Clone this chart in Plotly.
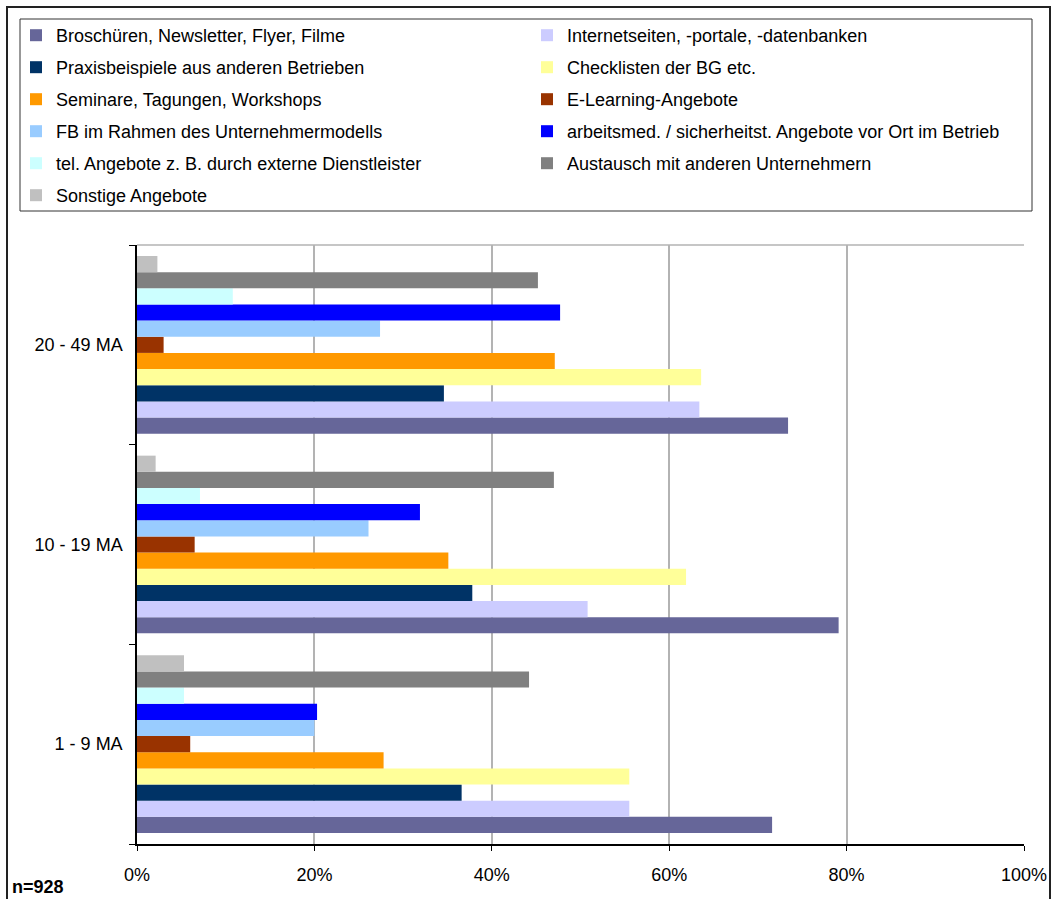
import plotly.graph_objects as go

categories = ["1 - 9 MA", "10 - 19 MA", "20 - 49 MA"]

series_names = [
    "Broschüren, Newsletter, Flyer, Filme",
    "Internetseiten, -portale, -datenbanken",
    "Praxisbeispiele aus anderen Betrieben",
    "Checklisten der BG etc.",
    "Seminare, Tagungen, Workshops",
    "E-Learning-Angebote",
    "FB im Rahmen des Unternehmermodells",
    "arbeitsmed. / sicherheitst. Angebote vor Ort im Betrieb",
    "tel. Angebote z. B. durch externe Dienstleister",
    "Austausch mit anderen Unternehmern",
    "Sonstige Angebote",
]

# values per series for [1-9 MA, 10-19 MA, 20-49 MA] (fractions)
broschueren = [0.716, 0.791, 0.734]
internetseiten = [0.555, 0.508, 0.634]
praxisbeispiele = [0.366, 0.378, 0.346]
checklisten = [0.555, 0.619, 0.636]
seminare = [0.278, 0.351, 0.471]
elearning = [0.060, 0.065, 0.030]
fb_unternehmermodell = [0.200, 0.261, 0.274]
arbeitsmed = [0.203, 0.319, 0.477]
tel_angebote = [0.053, 0.071, 0.108]
austausch = [0.442, 0.470, 0.452]
sonstige = [0.053, 0.021, 0.023]

series_values = [broschueren, internetseiten, praxisbeispiele, checklisten, seminare,
                 elearning, fb_unternehmermodell, arbeitsmed, tel_angebote, austausch, sonstige]

colors = ["#666699", "#CCCCFF", "#003366", "#FFFF99", "#FF9900", "#993300",
          "#99CCFF", "#0000FF", "#CCFFFF", "#808080", "#C0C0C0"]

x_ticks = [0, 0.2, 0.4, 0.6, 0.8, 1.0]
x_ticklabels = ["0%", "20%", "40%", "60%", "80%", "100%"]

FONT = "Arial, Liberation Sans, sans-serif"

W, H = 1051, 899
L, R, T, B = 137, 1024, 245, 844
pw, ph = R - L, B - T


def px_x(x):
    return (x - L) / pw


def px_y(y):
    return (B - y) / ph


fig = go.Figure()
for i, (name, vals, col) in enumerate(zip(series_names, series_values, colors)):
    fig.add_trace(go.Bar(
        y=categories, x=vals, name=name, orientation="h",
        marker=dict(color=col, line=dict(width=0)),
        legend="legend" if i % 2 == 0 else "legend2",
        legendgroup=f"g{i}",
    ))

legend_common = dict(
    orientation="v", bgcolor="rgba(0,0,0,0)", borderwidth=0,
    font=dict(family=FONT, size=18, color="#000000"),
    tracegroupgap=5.6, xanchor="left", yanchor="top", traceorder="grouped",
)

fig.update_layout(
    width=W, height=H, autosize=False,
    margin=dict(l=L, r=W - R, t=T, b=H - B, pad=0, autoexpand=False),
    paper_bgcolor="white", plot_bgcolor="white",
    barmode="group", bargap=0.11, bargroupgap=0,
    font=dict(family=FONT, size=18, color="#000000"),
    showlegend=True,
    legend=dict(x=px_x(16), y=px_y(17), **legend_common),
    legend2=dict(x=px_x(527), y=px_y(17), **legend_common),
    xaxis=dict(
        range=[0, 1], tickvals=x_ticks, ticktext=x_ticklabels,
        showgrid=True, gridcolor="#B3B3B3", gridwidth=1.5,
        showline=True, linecolor="#000000", linewidth=1.5,
        ticks="outside", ticklen=5, tickcolor="#000000",
        ticklabelstandoff=9,
        tickfont=dict(family=FONT, size=18, color="#000000"),
        zeroline=False, fixedrange=True,
    ),
    yaxis=dict(
        type="category", categoryorder="array", categoryarray=categories,
        showgrid=False, showline=True, linecolor="#000000", linewidth=1.5,
        ticks="outside", ticklen=6, tickcolor="#000000", tickson="boundaries",
        ticklabelstandoff=9,
        tickfont=dict(family=FONT, size=18, color="#000000"),
        zeroline=False, fixedrange=True,
    ),
    shapes=[
        # outer chart border
        dict(type="rect", xref="paper", yref="paper",
             x0=px_x(7), x1=px_x(1050), y0=px_y(910), y1=px_y(7),
             line=dict(color="#222222", width=2), fillcolor="rgba(0,0,0,0)", layer="below"),
        # legend box
        dict(type="rect", xref="paper", yref="paper",
             x0=px_x(20), x1=px_x(1032), y0=px_y(211), y1=px_y(19),
             line=dict(color="#333333", width=1), fillcolor="rgba(0,0,0,0)", layer="below"),
        # top border of plot area
        dict(type="line", xref="paper", yref="paper",
             x0=0, x1=1, y0=1, y1=1,
             line=dict(color="#B3B3B3", width=1.5), layer="below"),
    ],
    annotations=[
        dict(text="<b>n=928</b>", xref="paper", yref="paper",
             x=px_x(10), y=px_y(887), xanchor="left", yanchor="middle",
             showarrow=False, font=dict(family=FONT, size=18, color="#000000")),
    ],
)

fig.write_html(
    "out.html",
    config=dict(displayModeBar=False, responsive=False),
    post_script="document.body.style.margin='0';document.body.style.overflow='hidden';",
)
